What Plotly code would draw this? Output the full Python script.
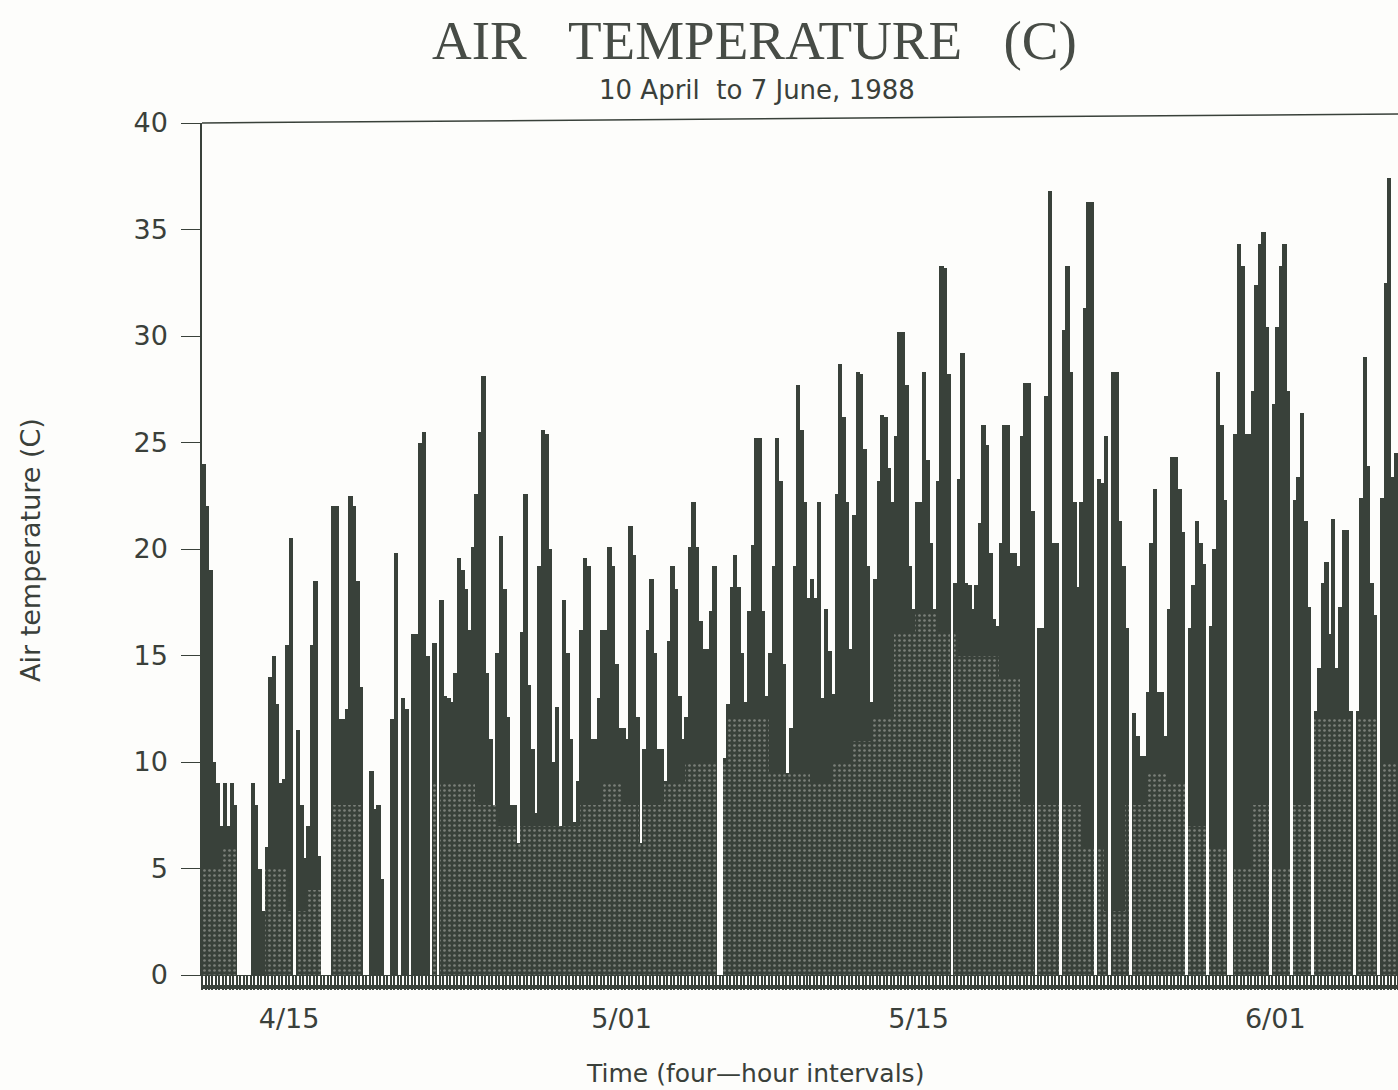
import plotly.graph_objects as go

# Air temperature (C), one value per four-hour slot, six slots per day
temps_a = [
    24, 22, 19, 10, 9, 7,
    9, 7, 9, 8, 0, 0,
    0, 0, 9, 8, 5, 3,
    6, 14, 15, 12.7, 9, 9.2,
    15.5, 20.5, 0, 11.5, 8, 5.5,
    7, 15.5, 18.5, 5.6, 0, 0,
    0, 22, 22, 12, 12, 12.5,
    22.5, 22, 18.5, 13.5, 0, 0,
    9.6, 7.8, 8, 4.5, 0, 0,
    12, 19.8, 0, 13, 12.5, 0,
]
temps_b = [
    16, 16, 25, 25.5, 15, 0,
    15.6, 0, 17.6, 13.1, 13, 12.8,
    14.2, 19.6, 19, 18.1, 16.2, 20.1,
    22.6, 25.5, 28.1, 14.2, 11.1, 8,
    15.1, 20.6, 18.1, 12.1, 8, 8,
    6.2, 16.1, 22.6, 13.6, 10.6, 7.6,
    19.2, 25.6, 25.4, 20, 10, 12.6,
    7, 17.6, 15.1, 11.1, 7.2, 9.1,
    16.2, 19.6, 19.2, 11.1, 11.1, 13,
    16.2, 16.2, 20.1, 19.2, 14.6, 11.6,
]
temps_c = [
    11.6, 11.1, 21.1, 19.7, 12.1, 6.2,
    10.6, 16.2, 18.6, 15.1, 10.6, 10.6,
    9.1, 15.7, 19.2, 18.1, 13.1, 11.1,
    12.1, 20.1, 22.2, 20.1, 16.6, 15.3,
    15.3, 17.1, 19.2, 0, 0, 10.2,
    12.7, 18.2, 19.7, 18.2, 15.1, 12.8,
    17.1, 20.2, 25.2, 25.2, 17.1, 13.1,
    15.1, 19.2, 25.2, 23.2, 14.6, 9.5,
    11.6, 19.2, 27.7, 25.6, 22.2, 17.7,
]
temps_d = [
    18.6, 17.7, 22.2, 13, 17.2, 15.2,
    13.2, 22.6, 28.7, 26.2, 22.2, 15.3,
    21.6, 28.3, 28.2, 24.7, 19.2, 12.8,
    18.6, 23.2, 26.3, 26.2, 23.8, 22.2,
    25.3, 30.2, 30.2, 27.7, 19.2, 17.2,
    22.2, 22.2, 28.3, 24.2, 20.3, 17.2,
    23.2, 33.3, 33.2, 28.2, 0, 18.4,
    23.3, 29.2, 18.4, 18.3, 17.2, 18.3,
    21.2, 25.8, 24.9, 19.8, 16.7, 16.4,
]
temps_e = [
    20.3, 25.8, 25.8, 19.8, 19.8, 19.2,
    25.3, 27.8, 27.8, 21.8, 0, 16.3,
    16.3, 27.2, 36.8, 20.3, 20.3, 0,
    30.3, 33.3, 28.3, 22.2, 18.2, 22.2,
    31.3, 36.3, 36.3, 0, 23.3, 23.1,
    25.3, 0, 28.3, 28.3, 21.3, 19.2,
    16.3, 0, 12.3, 11.2, 10.3, 10.3,
    13.3, 20.3, 22.8, 13.3, 13.3, 11.2,
    17.2, 24.3, 24.3, 22.8, 20.8, 0,
]
temps_f = [
    16.3, 18.3, 21.3, 20.3, 19.3, 0,
    16.4, 20, 28.3, 25.8, 22.3, 0,
    0, 25.4, 34.3, 33.3, 25.4, 25.4,
    27.4, 32.4, 34.3, 34.9, 30.4, 0,
    26.8, 30.4, 33.3, 34.3, 27.4, 0,
    22.3, 23.4, 26.4, 21.3, 17.3, 0,
    12.4, 14.4, 18.4, 19.4, 16, 21.4,
    14.4, 17.3, 20.9, 20.9, 12.4, 0,
    12.4, 22.4, 29, 23.9, 18.4, 16.9,
    0, 22.4, 32.5, 37.4, 23.4, 24.5,
]
temps = temps_a + temps_b + temps_c + temps_d + temps_e + temps_f

# Height (C) up to which the scanned print looks speckled, one per day
speckle_levels = [
    5, 6, 0, 5, 3, 4, 8, 8, 0, 0, 0, 9, 9, 8, 7, 7, 7, 7, 8, 9,
    8, 8, 9, 10, 10, 12, 12, 9.5, 9.5, 9, 10, 11, 12, 16, 17, 16, 15, 15, 14, 8,
    8, 8, 6, 3, 8, 9.5, 9, 7, 6, 5, 8, 5, 8, 12, 12, 12, 10,
]

label_slots = [24.4, 119.5, 204.4, 306.4]
label_text = ["4/15", "5/01", "5/15", "6/01"]
y_ticks = [0, 5, 10, 15, 20, 25, 30, 35, 40]

slots = list(range(len(temps)))
speckled = [min(v, speckle_levels[min(i // 6, len(speckle_levels) - 1)]) for i, v in enumerate(temps)]

INK = "#39413a"
TEXT = "#3a403a"
SANS = "DejaVu Sans"


def paper_x(px):
    return (px - 202) / 1196


def paper_y(px):
    return (975 - px) / 852


fig = go.Figure()
fig.add_trace(go.Bar(x=slots, y=temps, width=1.25, marker=dict(color=INK, line=dict(width=0)),
                     hoverinfo="y", showlegend=False))
fig.add_trace(go.Bar(x=slots, y=speckled, width=1,
                     marker=dict(color=INK, line=dict(width=0),
                                 pattern=dict(shape=".", size=5, solidity=0.22,
                                              fgcolor="#7b807a", bgcolor=INK, fillmode="replace")),
                     hoverinfo="skip", showlegend=False))

fig.update_layout(
    width=1398, height=1090, barmode="overlay", bargap=0,
    margin=dict(l=202, r=0, t=123, b=115, autoexpand=False),
    paper_bgcolor="#fdfdfb", plot_bgcolor="#fdfdfb",
    xaxis=dict(
        range=[-0.5, 341.5], tickmode="array", tickvals=label_slots, ticktext=label_text,
        ticks="outside", ticklen=14, tickwidth=1, tickcolor=INK, ticklabelstandoff=6,
        tickfont=dict(family=SANS, size=27, color=TEXT),
        showgrid=False, zeroline=False, showline=True, linecolor=INK, linewidth=1,
        minor=dict(tickmode="linear", tick0=-0.5, dtick=1, ticks="outside", ticklen=14,
                   tickwidth=1.6, tickcolor=INK, showgrid=False),
    ),
    yaxis=dict(
        range=[0, 40], tickmode="array", tickvals=y_ticks,
        ticks="outside", ticklen=19, tickwidth=1.2, tickcolor=INK, ticklabelstandoff=8,
        tickfont=dict(family=SANS, size=27, color=TEXT),
        showgrid=False, zeroline=False, showline=True, linecolor=INK, linewidth=1.5,
    ),
    annotations=[
        dict(text="AIR\u00a0\u00a0\u00a0TEMPERATURE\u00a0\u00a0\u00a0(C)", xref="paper", yref="paper",
             x=paper_x(754), y=paper_y(40), showarrow=False, xanchor="center", yanchor="middle",
             font=dict(family="Liberation Serif", size=55, color="#474c46")),
        dict(text="10 April\u00a0\u00a0to 7 June, 1988", xref="paper", yref="paper",
             x=paper_x(757), y=paper_y(90), showarrow=False, xanchor="center", yanchor="middle",
             font=dict(family=SANS, size=26, color=TEXT)),
        dict(text="Time (four\u2014hour intervals)", xref="paper", yref="paper",
             x=paper_x(755), y=paper_y(1073), showarrow=False, xanchor="center", yanchor="middle",
             font=dict(family=SANS, size=25, color=TEXT)),
        dict(text="Air temperature (C)", xref="paper", yref="paper", textangle=-90,
             x=paper_x(30), y=paper_y(550), showarrow=False, xanchor="center", yanchor="middle",
             font=dict(family=SANS, size=27, color=TEXT)),
    ],
    shapes=[
        dict(type="line", xref="paper", yref="paper", x0=0, x1=1, y0=1, y1=1 + 9 / 852,
             line=dict(color=INK, width=1.5)),
        dict(type="rect", xref="paper", yref="paper", x0=0, x1=1, y0=-14 / 852, y1=-10 / 852,
             fillcolor=INK, line=dict(width=0), layer="above"),
    ],
)

fig.write_html("out.html", config=dict(displayModeBar=False),
               post_script="document.body.style.margin='0';document.body.style.overflow='hidden';")
